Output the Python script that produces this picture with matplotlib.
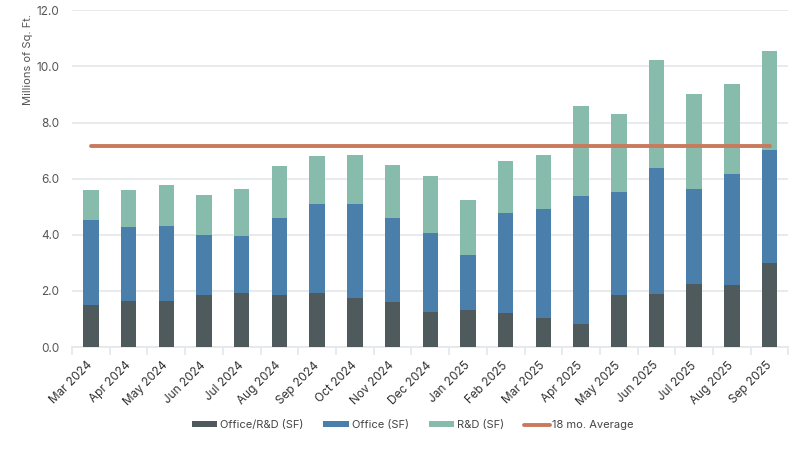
import matplotlib
matplotlib.use("Agg")
import matplotlib.pyplot as plt
import numpy as np

plt.rcParams["font.family"] = ["Inter", "DejaVu Sans"]

months = ["Mar 2024", "Apr 2024", "May 2024", "Jun 2024", "Jul 2024", "Aug 2024",
          "Sep 2024", "Oct 2024", "Nov 2024", "Dec 2024", "Jan 2025", "Feb 2025",
          "Mar 2025", "Apr 2025", "May 2025", "Jun 2025", "Jul 2025", "Aug 2025", "Sep 2025"]
office_rd = [1.49, 1.63, 1.63, 1.84, 1.94, 1.84, 1.91, 1.76, 1.62, 1.26, 1.31, 1.21,
             1.02, 0.81, 1.86, 1.90, 2.26, 2.20, 2.99]
office = [3.02, 2.65, 2.68, 2.16, 2.02, 2.74, 3.17, 3.32, 2.96, 2.81, 1.97, 3.55,
          3.90, 4.58, 3.67, 4.49, 3.38, 3.97, 4.03]
rnd = [1.10, 1.32, 1.46, 1.41, 1.68, 1.88, 1.72, 1.76, 1.90, 2.03, 1.95, 1.86,
       1.92, 3.21, 2.76, 3.84, 3.38, 3.19, 3.54]
avg_18mo = [7.15] * len(months)

c_dark = "#4e5a5b"
c_blue = "#4a7fab"
c_green = "#87bcad"
c_avg = "#c97a5e"
c_text = "#555555"
c_grid = "#e4e8eb"

fig = plt.figure(figsize=(8, 4.59), dpi=100)
ax = fig.add_axes([0.09, 0.244, 0.8956, 0.7336])

x = np.arange(len(months))
w = 0.41
b1 = np.array(office_rd)
b2 = b1 + np.array(office)
h1 = ax.bar(x, office_rd, w, color=c_dark, label="Office/R&D (SF)", zorder=3)
h2 = ax.bar(x, office, w, bottom=b1, color=c_blue, label="Office (SF)", zorder=3)
h3 = ax.bar(x, rnd, w, bottom=b2, color=c_green, label="R&D (SF)", zorder=3)
h4, = ax.plot(x, avg_18mo, color=c_avg, lw=2.8, label="18 mo. Average", zorder=4,
              solid_capstyle="round")

ax.set_xlim(-0.5, len(months) - 0.5)
ax.set_ylim(0, 12)
ax.set_yticks(np.arange(0, 12.1, 2))
ax.set_yticklabels([f"{v:.1f}" for v in np.arange(0, 12.1, 2)], fontsize=8.5, color=c_text)
ax.yaxis.grid(True, color=c_grid, lw=1.2, zorder=0)
ax.tick_params(axis="y", length=0, pad=9)

for s in ["top", "right", "left"]:
    ax.spines[s].set_visible(False)
ax.spines["bottom"].set_color(c_grid)
ax.spines["bottom"].set_linewidth(1.2)

ax.set_xticks(np.arange(-0.5, len(months), 1.0), minor=False)
ax.set_xticklabels([])
ax.tick_params(axis="x", which="major", length=6, color=c_grid, width=1.2)
ax.set_xticks(x, minor=True)
ax.set_xticklabels(months, minor=True, rotation=45, ha="right", va="center",
                   rotation_mode="anchor", fontsize=8.5, color="#333333")
ax.tick_params(axis="x", which="minor", length=0, pad=12)

fig.text(0.035, 1 - 59 / 459, "Millions of Sq. Ft.", rotation=90, ha="center",
         va="center", fontsize=8, color=c_text)

leg = fig.legend(handles=[h1, h2, h3, h4], loc="center",
                 bbox_to_anchor=(0.516, 1 - 425 / 459), ncol=4,
                 frameon=False, fontsize=8, handlelength=2.3, handleheight=0.45,
                 handletextpad=0.25, columnspacing=1.8)
for t in leg.get_texts():
    t.set_color("#444444")

fig.savefig("out.png", dpi=100)
